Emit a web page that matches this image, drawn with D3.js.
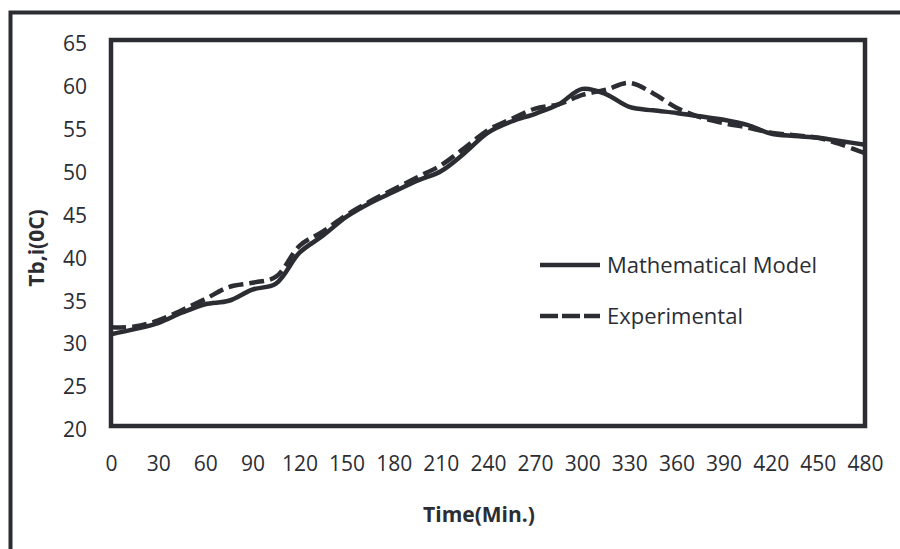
<!DOCTYPE html>
<html>
<head>
<meta charset="utf-8">
<script src="https://cdn.jsdelivr.net/npm/d3@7"></script>
<style>
  html, body { margin: 0; background: #fff; overflow: hidden; }
  svg { display: block; }
  text { font-family: "Open Sans", "Noto Sans", sans-serif; fill: #2b2d33; }
</style>
</head>
<body>
<svg id="chart"></svg>
<script>
// time in minutes
var times = [0, 15, 30, 45, 60, 75, 90, 105, 120, 135, 150, 165, 180, 195, 210, 225, 240,
             255, 270, 285, 300, 315, 330, 345, 360, 375, 390, 405, 420, 435, 450, 465, 480];
var modelValues = [30.7, 31.3, 32.0, 33.2, 34.2, 34.6, 35.9, 36.6, 40.2, 42.2, 44.4, 46.0, 47.3,
                   48.6, 49.7, 51.8, 54.2, 55.5, 56.4, 57.5, 59.3, 58.7, 57.2, 56.8, 56.5,
                   56.1, 55.7, 55.1, 54.1, 53.8, 53.6, 53.2, 52.8];
var expValues = [31.5, 31.6, 32.3, 33.5, 34.8, 36.2, 36.7, 37.4, 41.0, 42.7, 44.6, 46.2, 47.6,
                 49.0, 50.4, 52.4, 54.5, 55.8, 57.0, 57.5, 58.6, 59.2, 60.0, 58.8, 57.1,
                 56.0, 55.3, 54.8, 54.2, 53.9, 53.6, 52.8, 51.8];
var xTicks = [0, 30, 60, 90, 120, 150, 180, 210, 240, 270, 300, 330, 360, 390, 420, 450, 480];
var yTicks = [20, 25, 30, 35, 40, 45, 50, 55, 60, 65];
var seriesNames = ["Mathematical Model", "Experimental"];

var width = 900, height = 549;
var ink = "#2b2d33";

var svg = d3.select("#chart")
    .attr("width", width)
    .attr("height", height);

// outer frame, only its left and top sides are in view
svg.append("path")
    .attr("d", "M10.5," + (height + 10) + "V12.5H" + (width + 10))
    .style("fill", "none")
    .style("stroke", ink)
    .style("stroke-width", 4);

var plotLeft = 111, plotRight = 865, plotTop = 40, plotBottom = 426;

var x = d3.scaleLinear().domain([0, 480]).range([plotLeft, plotRight]);
var y = d3.scaleLinear().domain([20, 65]).range([plotBottom, plotTop]);

// x tick labels
svg.append("g")
    .attr("transform", "translate(0," + plotBottom + ")")
    .call(d3.axisBottom(x).tickValues(xTicks).tickSize(0).tickPadding(30))
    .call(function(g) { g.select(".domain").remove(); })
    .selectAll("text")
    .style("font-size", "21px")
    .style("font-family", "'Open Sans', 'Noto Sans', sans-serif")
    .style("fill", ink);

// y tick labels
svg.append("g")
    .attr("transform", "translate(" + plotLeft + ",4)")
    .call(d3.axisLeft(y).tickValues(yTicks).tickSize(0).tickPadding(24))
    .call(function(g) { g.select(".domain").remove(); })
    .selectAll("text")
    .style("font-size", "21px")
    .style("font-family", "'Open Sans', 'Noto Sans', sans-serif")
    .style("fill", ink);

var line = d3.line()
    .x(function(d) { return x(d[0]); })
    .y(function(d) { return y(d[1]); })
    .curve(d3.curveCatmullRom.alpha(0.5));

var modelData = times.map(function(t, i) { return [t, modelValues[i]]; });
var expData = times.map(function(t, i) { return [t, expValues[i]]; });

svg.append("path")
    .datum(modelData)
    .attr("d", line)
    .style("fill", "none")
    .style("stroke", ink)
    .style("stroke-width", 4.5);

svg.append("path")
    .datum(expData)
    .attr("d", line)
    .style("fill", "none")
    .style("stroke", ink)
    .style("stroke-width", 4.5)
    .style("stroke-dasharray", "15,6");

// plot frame
svg.append("rect")
    .attr("x", plotLeft)
    .attr("y", plotTop)
    .attr("width", plotRight - plotLeft)
    .attr("height", plotBottom - plotTop)
    .style("fill", "none")
    .style("stroke", ink)
    .style("stroke-width", 4.5);

// legend
var legend = svg.append("g");
seriesNames.forEach(function(name, i) {
    var ly = 265 + i * 51;
    legend.append("line")
        .attr("x1", 540).attr("x2", 600)
        .attr("y1", ly).attr("y2", ly)
        .style("stroke", ink)
        .style("stroke-width", 4.5)
        .style("stroke-dasharray", i == 1 ? "18,4" : null);
    legend.append("text")
        .attr("x", 607)
        .attr("y", ly)
        .attr("dy", ".35em")
        .style("font-size", "22px")
        .text(name);
});

// axis titles
svg.append("text")
    .attr("x", 479)
    .attr("y", 515)
    .attr("dy", ".35em")
    .attr("text-anchor", "middle")
    .style("font-size", "21px")
    .style("font-weight", "bold")
    .text("Time(Min.)");

svg.append("text")
    .attr("transform", "translate(37,248) rotate(-90)")
    .attr("dy", ".35em")
    .attr("text-anchor", "middle")
    .style("font-size", "21px")
    .style("font-weight", "bold")
    .text("Tb,i(0C)");
</script>
</body>
</html>
